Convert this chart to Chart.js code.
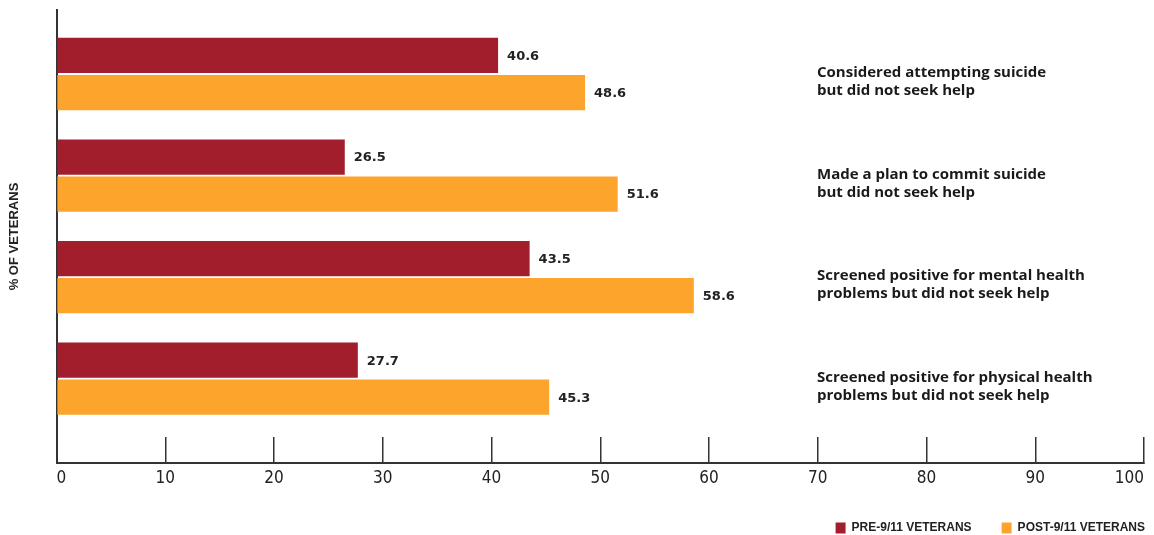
<!DOCTYPE html>
<html>
<head>
<meta charset="utf-8">
<script src="https://cdn.jsdelivr.net/npm/chart.js@4.4.1/dist/chart.umd.min.js"></script>
<style>
    html, body { margin: 0; padding: 0; background: #ffffff; }
    #wrap { width: 1154px; height: 535px; position: relative; }
</style>
</head>
<body>
<div id="wrap"><canvas id="barChart"></canvas></div>
<script>
// ---------------- DATA ----------------
const categories = [
    ["Considered attempting suicide", "but did not seek help"],
    ["Made a plan to commit suicide", "but did not seek help"],
    ["Screened positive for mental health", "problems but did not seek help"],
    ["Screened positive for physical health", "problems but did not seek help"]
];
const preValues = [40.6, 26.5, 43.5, 27.7];
const postValues = [48.6, 51.6, 58.6, 45.3];
const seriesNames = ["PRE-9/11 VETERANS", "POST-9/11 VETERANS"];
const xTicks = [0, 10, 20, 30, 40, 50, 60, 70, 80, 90, 100];

const RED = "#a21e2c";
const ORANGE = "#fda42d";
const INK = "#222222";

// category index on a linear y scale so the axis can run past the last group
const toPoints = vals => vals.map((v, i) => ({ x: v, y: i }));

// ---------------- PLUGINS ----------------
const valueLabels = {
    id: "valueLabels",
    afterDatasetsDraw(chart) {
        const ctx = chart.ctx;
        ctx.save();
        ctx.font = "bold 13px 'DejaVu Sans', sans-serif";
        ctx.fillStyle = INK;
        ctx.textBaseline = "middle";
        ctx.textAlign = "left";
        chart.data.datasets.forEach((ds, di) => {
            chart.getDatasetMeta(di).data.forEach((bar, i) => {
                ctx.fillText(ds.data[i].x.toFixed(1), bar.x + 9, bar.y + 1);
            });
        });
        ctx.restore();
    }
};

const categoryLabels = {
    id: "categoryLabels",
    afterDatasetsDraw(chart) {
        const ctx = chart.ctx;
        const yScale = chart.scales.y;
        ctx.save();
        ctx.font = "bold 15px 'Open Sans', sans-serif";
        ctx.fillStyle = "#1a1a1a";
        ctx.textBaseline = "middle";
        ctx.textAlign = "left";
        categories.forEach((lines, i) => {
            const y = yScale.getPixelForValue(i);
            lines.forEach((t, k) => ctx.fillText(t, 817, y - 1 + k * 18));
        });
        ctx.restore();
    }
};

// push the legend to the right edge, like the print layout
const legendShift = {
    id: "legendShift",
    afterLayout(chart) {
        if (!chart.legend) return;
        chart.legend.left += 21;
        chart.legend.right += 21;
    }
};

// ---------------- CHART ----------------
new Chart(document.getElementById("barChart"), {
    type: "bar",
    data: {
        datasets: [{
            label: seriesNames[0],
            data: toPoints(preValues),
            backgroundColor: RED
        }, {
            label: seriesNames[1],
            data: toPoints(postValues),
            backgroundColor: ORANGE
        }]
    },
    options: {
        indexAxis: "y",
        responsive: true,
        maintainAspectRatio: false,
        animation: false,
        categoryPercentage: 0.73,
        barPercentage: 0.95,
        layout: { padding: { top: 10, left: 0, right: 0, bottom: 0 } },
        plugins: {
            tooltip: { enabled: false },
            legend: {
                position: "bottom",
                align: "end",
                maxHeight: 43,
                labels: {
                    boxWidth: 10,
                    boxHeight: 11,
                    padding: 30,
                    color: INK,
                    font: { family: "'Liberation Sans', Arial, sans-serif", size: 12, weight: "bold" }
                }
            }
        },
        scales: {
            x: {
                type: "linear",
                min: 0,
                max: 100,
                afterBuildTicks: scale => { scale.ticks = xTicks.map(v => ({ value: v })); },
                afterFit: scale => {
                    scale.height = 29;
                    scale.paddingRight = 10;
                },
                grid: {
                    drawOnChartArea: false,
                    drawTicks: true,
                    tickLength: -26,
                    color: "#333333",
                    lineWidth: 1.5
                },
                border: { display: true, color: "#333333", width: 2 },
                ticks: {
                    padding: 31,
                    align: "inner",
                    color: INK,
                    font: { family: "'DejaVu Sans Condensed', 'Liberation Sans Narrow', Roboto, sans-serif", size: 17 }
                }
            },
            y: {
                type: "linear",
                reverse: true,
                offset: false,
                min: -0.63,
                max: 3.83,
                ticks: { display: false, stepSize: 1, includeBounds: false },
                grid: { display: false, drawTicks: false, offset: false },
                border: { display: true, color: "#333333", width: 2 },
                title: {
                    display: true,
                    text: "% OF VETERANS",
                    color: INK,
                    font: { family: "'Liberation Sans', Arial, sans-serif", size: 13, weight: "bold" },
                    padding: { top: 7, bottom: 34 }
                }
            }
        }
    },
    plugins: [valueLabels, categoryLabels, legendShift]
});
</script>
</body>
</html>
